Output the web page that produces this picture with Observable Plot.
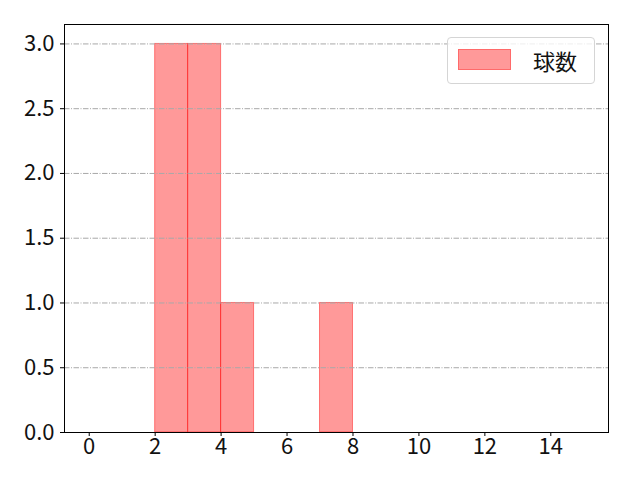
<!DOCTYPE html>
<html>
<head>
<meta charset="utf-8">
<script src="https://cdn.jsdelivr.net/npm/d3@7"></script>
<script src="https://cdn.jsdelivr.net/npm/@observablehq/plot@0.6"></script>
<style>
  body { margin: 0; background: #fff; }
  #wrap { position: relative; width: 640px; height: 480px; font-family: "Noto Sans CJK JP", sans-serif; }
  #legend {
    position: absolute; left: 447px; top: 37px; width: 148px; height: 47px;
    border: 1px solid #d5d5d5; border-radius: 4px; background: rgba(255,255,255,0.8);
    box-sizing: border-box;
  }
  #legend .sw {
    position: absolute; left: 10px; top: 11px; width: 53px; height: 21px;
    background: rgba(255,0,0,0.4); border: 1px solid rgba(255,0,0,0.3); box-sizing: border-box;
  }
  #legend .lb {
    position: absolute; left: 85px; top: 4px; font-size: 22px; line-height: 36px; color: #111;
  }
</style>
</head>
<body>
<div id="wrap"></div>
<script>
const binStarts = [0, 1, 2, 3, 4, 5, 6, 7, 8, 9, 10, 11, 12, 13, 14];
const binEnds   = [1, 2, 3, 4, 5, 6, 7, 8, 9, 10, 11, 12, 13, 14, 15];
const counts    = [0, 0, 3, 3, 1, 0, 0, 1, 0, 0, 0, 0, 0, 0, 0];
const xTicks = [0, 2, 4, 6, 8, 10, 12, 14];
const yTicks = [0, 0.5, 1.0, 1.5, 2.0, 2.5, 3.0];
const seriesName = "球数";

const data = binStarts.map((s, i) => ({x1: s, x2: binEnds[i], y: counts[i]})).filter(d => d.y > 0);

const chart = Plot.plot({
  width: 640,
  height: 480,
  marginLeft: 64,
  marginRight: 32,
  marginTop: 24,
  marginBottom: 48,
  style: {fontFamily: "'Noto Sans CJK JP', sans-serif", fontSize: "22px", color: "#111", background: "#fff"},
  x: {domain: [-0.75, 15.75], ticks: xTicks, label: null},
  y: {domain: [0, 3.15], ticks: yTicks, label: null},
  marks: [
    Plot.rectY(data, {x1: "x1", x2: "x2", y: "y", fill: "red", fillOpacity: 0.4, stroke: "red", strokeOpacity: 0.45, strokeWidth: 1}),
    Plot.gridY(yTicks, {stroke: "#a8a8a8", strokeOpacity: 1, strokeWidth: 1, strokeDasharray: "5.5,1.5,1,1.5"}),
    Plot.axisX({ticks: xTicks, tickSize: 4, tickPadding: 2, fontSize: 22, tickFormat: d => String(d), label: null, stroke: "#000"}),
    Plot.axisY({ticks: yTicks, tickSize: 4, tickPadding: 6, fontSize: 22, tickFormat: d => d.toFixed(1), label: null, stroke: "#000"}),
    Plot.frame({stroke: "#000", strokeWidth: 1})
  ]
});

const wrap = document.getElementById("wrap");
wrap.appendChild(chart);
const leg = document.createElement("div");
leg.id = "legend";
leg.innerHTML = `<div class="sw"></div><div class="lb">${seriesName}</div>`;
wrap.appendChild(leg);
</script>
</body>
</html>
